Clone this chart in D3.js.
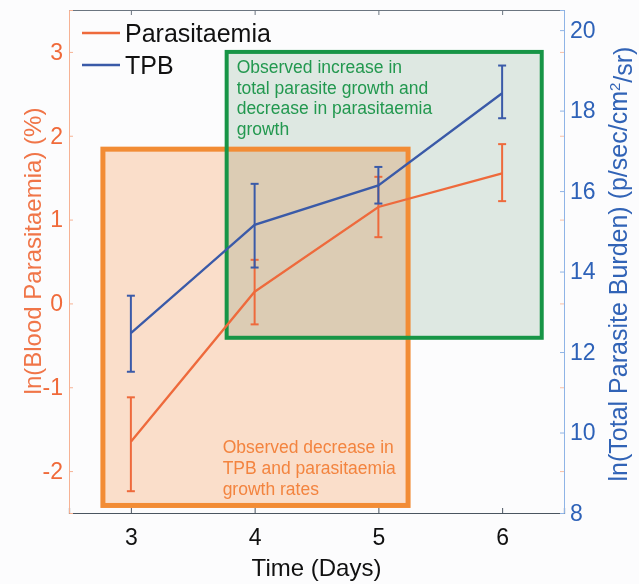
<!DOCTYPE html>
<html>
<head>
<meta charset="utf-8">
<script src="https://cdn.jsdelivr.net/npm/d3@7"></script>
<style>
  html, body { margin: 0; padding: 0; background: #fcfcfd; }
  svg { display: block; font-family: "Liberation Sans", Arial, Helvetica, sans-serif; }
  .fill { mix-blend-mode: multiply; }
</style>
</head>
<body>
<div id="chart"></div>
<script>
// Values
const days = [3, 4, 5, 6];
const parasitaemia = [-1.65, 0.14, 1.15, 1.55];
const parasitaemiaHi = [-1.12, 0.52, 1.51, 1.90];
const parasitaemiaLo = [-2.24, -0.25, 0.79, 1.22];
const tpb = [12.47, 15.16, 16.14, 18.43];
const tpbHi = [13.40, 16.18, 16.60, 19.12];
const tpbLo = [11.51, 14.10, 15.69, 17.81];

const xTicks = [3, 4, 5, 6];
const leftTicks = [-2, -1, 0, 1, 2, 3];
const rightTicks = [8, 10, 12, 14, 16, 18, 20];

// annotation boxes, in x / left-axis units
const orangeBox = [2.774, 5.24, -2.41, 1.84];
const greenBox = [3.774, 6.32, -0.41, 3.0];
const orangeNote = ["Observed decrease in", "TPB and parasitaemia", "growth rates"];
const greenNote = ["Observed increase in", "total parasite growth and", "decrease in parasitaemia", "growth"];

(function() {
  const W = 639, H = 584;
  const m = { top: 10, right: 75, bottom: 71, left: 69 };
  const iw = W - m.left - m.right, ih = H - m.top - m.bottom;

  const cOrange = "#ee6a3c", cBlue = "#3a5aa8";

  const svg = d3.select("#chart").append("svg").attr("width", W).attr("height", H);
  const g = svg.append("g").attr("transform", `translate(${m.left},${m.top})`);

  const x = d3.scaleLinear().domain([2.5, 6.5]).range([0, iw]);
  const yL = d3.scaleLinear().domain([-2.5, 3.5]).range([ih, 0]);
  const yR = d3.scaleLinear().domain([8, 20.5]).range([ih, 0]);

  // boxes: fills (multiply), then borders
  const boxes = [
    { b: orangeBox, fill: "#fde1cc", stroke: "#f28c35", sw: 5 },
    { b: greenBox, fill: "#e1ebe4", stroke: "#179546", sw: 4 }
  ];
  boxes.forEach(d => {
    g.append("rect").attr("class", "fill")
      .attr("x", x(d.b[0])).attr("y", yL(d.b[3]))
      .attr("width", x(d.b[1]) - x(d.b[0])).attr("height", yL(d.b[2]) - yL(d.b[3]))
      .attr("fill", d.fill);
  });
  boxes.forEach(d => {
    g.append("rect")
      .attr("x", x(d.b[0])).attr("y", yL(d.b[3]))
      .attr("width", x(d.b[1]) - x(d.b[0])).attr("height", yL(d.b[2]) - yL(d.b[3]))
      .attr("fill", "none").attr("stroke", d.stroke).attr("stroke-width", d.sw);
  });

  // annotation texts
  g.append("text").attr("fill", "#22984f").style("font-size", "17.5px")
    .selectAll("tspan").data(greenNote).enter().append("tspan")
    .attr("x", x(greenBox[0]) + 10).attr("y", (d, i) => yL(greenBox[3]) + 21 + i * 20.6)
    .text(d => d);
  g.append("text").attr("fill", "#f3843f").style("font-size", "17.5px")
    .selectAll("tspan").data(orangeNote).enter().append("tspan")
    .attr("x", x(4) - 32).attr("y", (d, i) => yL(orangeBox[2]) - 52 + i * 21)
    .text(d => d);

  // axes
  const bottom = g.append("g").attr("transform", `translate(0,${ih})`)
    .call(d3.axisBottom(x).tickValues(xTicks).tickSize(-5).tickPadding(15).tickFormat(d3.format("d")));
  bottom.select(".domain").attr("stroke", "#4a5560").attr("stroke-width", 1.2);
  bottom.selectAll(".tick line").attr("stroke", "#4a5560");
  bottom.selectAll("text").attr("fill", "#111").style("font-size", "23px").attr("dy", "0.75em");

  const top = g.append("g")
    .call(d3.axisTop(x).tickValues(xTicks).tickSize(-5).tickFormat(""));
  top.select(".domain").attr("stroke", "#6b7580");
  top.selectAll(".tick line").attr("stroke", "#6b7580");

  const left = g.append("g")
    .call(d3.axisLeft(yL).tickValues(leftTicks).tickSize(-4).tickPadding(6).tickFormat(d3.format("d")));
  left.select(".domain").attr("stroke", "#f6b294");
  left.selectAll(".tick line").attr("stroke", "#f6b294");
  left.selectAll("text").attr("fill", "#f06a3a").style("font-size", "23px").text(d => d < 0 ? "-" + Math.abs(d) : d);

  const right = g.append("g").attr("transform", `translate(${iw},0)`)
    .call(d3.axisRight(yR).tickValues(rightTicks).tickSize(-4).tickPadding(6).tickFormat(d3.format("d")));
  right.select(".domain").attr("stroke", "#8fb4e6");
  right.selectAll(".tick line").attr("stroke", "#8fb4e6");
  right.selectAll("text").attr("fill", "#2e62b8").style("font-size", "23px");
  // left-axis ticks mirrored on the right side
  g.append("g").attr("transform", `translate(${iw},0)`)
    .call(d3.axisRight(yL).tickValues(leftTicks).tickSize(-4).tickFormat(""))
    .call(s => s.select(".domain").remove())
    .selectAll(".tick line").attr("stroke", "#f8c0a6");

  // series
  const series = [
    { v: parasitaemia, hi: parasitaemiaHi, lo: parasitaemiaLo, y: yL, c: cOrange },
    { v: tpb, hi: tpbHi, lo: tpbLo, y: yR, c: cBlue }
  ];
  series.forEach(s => {
    const line = d3.line().x((d, i) => x(days[i])).y(d => s.y(d));
    g.append("path").datum(s.v).attr("d", line)
      .attr("fill", "none").attr("stroke", s.c).attr("stroke-width", 2.3);
    const eb = g.append("g").attr("stroke", s.c).attr("stroke-width", 2);
    days.forEach((d, i) => {
      const cx = x(d);
      eb.append("line").attr("x1", cx).attr("x2", cx).attr("y1", s.y(s.lo[i])).attr("y2", s.y(s.hi[i]));
      [s.lo[i], s.hi[i]].forEach(v => {
        eb.append("line").attr("x1", cx - 4).attr("x2", cx + 4).attr("y1", s.y(v)).attr("y2", s.y(v));
      });
    });
  });

  // legend
  const leg = svg.append("g").attr("transform", "translate(82,33)");
  [["Parasitaemia", cOrange], ["TPB", cBlue]].forEach((d, i) => {
    leg.append("line").attr("x1", 0).attr("x2", 38).attr("y1", i * 32).attr("y2", i * 32)
      .attr("stroke", d[1]).attr("stroke-width", 2.4);
    leg.append("text").attr("x", 43).attr("y", i * 32).attr("dy", "0.36em")
      .style("font-size", "25px").attr("fill", "#111").text(d[0]);
  });

  // axis titles
  svg.append("text").attr("text-anchor", "middle")
    .attr("transform", `translate(${m.left + iw / 2},576)`)
    .style("font-size", "24px").attr("fill", "#111").text("Time (Days)");
  svg.append("text").attr("text-anchor", "middle")
    .attr("transform", "translate(41,251) rotate(-90)")
    .style("font-size", "24px").attr("fill", "#f07548").text("ln(Blood Parasitaemia) (%)");
  const rt = svg.append("text").attr("text-anchor", "middle")
    .attr("transform", "translate(627,264) rotate(-90)")
    .style("font-size", "25px").attr("fill", "#3163b6");
  rt.append("tspan").text("ln(Total Parasite Burden) (p/sec/cm");
  rt.append("tspan").attr("dy", "-0.5em").style("font-size", "15px").text("2");
  rt.append("tspan").attr("dy", "0.5em").text("/sr)");
})();
</script>
</body>
</html>
